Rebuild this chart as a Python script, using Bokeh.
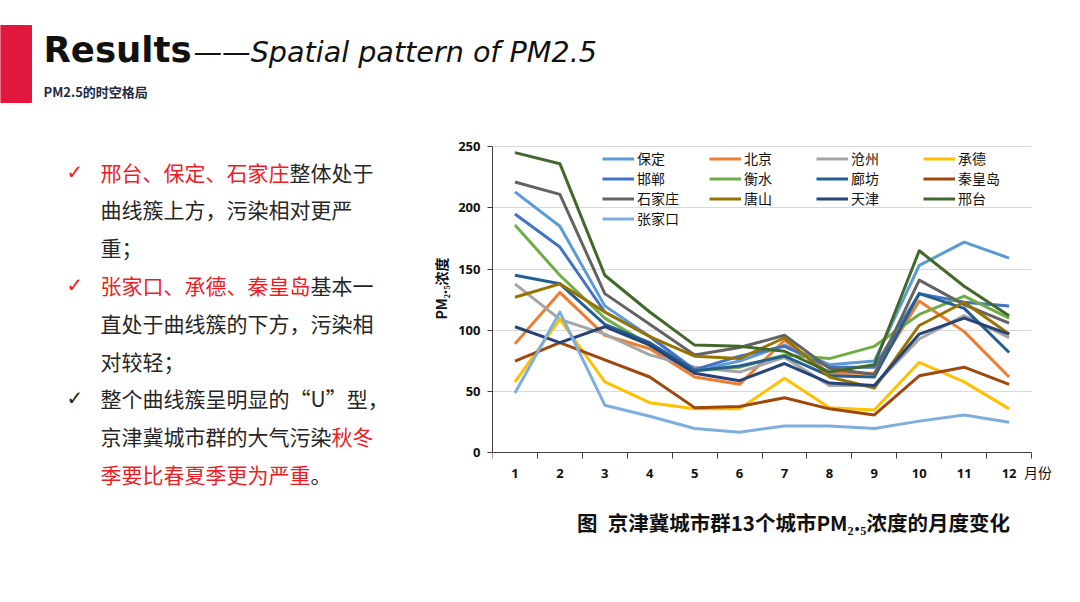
from bokeh.plotting import figure
from bokeh.models import Range1d, FixedTicker, Legend, LegendItem, Label
from bokeh.layouts import column, row
from bokeh.embed import file_html
from bokeh.resources import INLINE
from bokeh.core.properties import value

CJK = "Noto Sans CJK SC"

# ---------------- data ----------------
months = [1, 2, 3, 4, 5, 6, 7, 8, 9, 10, 11, 12]
cities = ["保定", "北京", "沧州", "承德", "邯郸", "衡水", "廊坊", "秦皇岛",
          "石家庄", "唐山", "天津", "邢台", "张家口"]
baoding = [213, 185, 120, 95, 67, 75, 88, 72, 75, 153, 172, 159]
beijing = [89, 131, 96, 85, 62, 56, 92, 65, 65, 124, 99, 62]
cangzhou = [138, 109, 97, 80, 70, 66, 78, 55, 55, 93, 112, 94]
chengde = [58, 109, 58, 41, 36, 36, 61, 37, 35, 74, 58, 36]
handan = [195, 168, 115, 95, 68, 79, 87, 70, 70, 130, 123, 120]
hengshui = [186, 145, 110, 88, 67, 70, 80, 77, 87, 113, 128, 110]
langfang = [145, 138, 105, 90, 67, 71, 79, 63, 62, 130, 118, 82]
qinhuangdao = [75, 90, 76, 62, 37, 38, 45, 36, 31, 63, 70, 56]
shijiazhuang = [221, 211, 130, 105, 80, 86, 96, 69, 64, 141, 121, 106]
tangshan = [127, 138, 115, 95, 79, 77, 94, 62, 53, 104, 123, 97]
tianjin = [103, 90, 103, 88, 65, 59, 73, 57, 55, 97, 110, 97]
xingtai = [245, 236, 145, 115, 88, 87, 83, 66, 72, 165, 136, 112]
zhangjiakou = [49, 115, 39, 30, 20, 17, 22, 22, 20, 26, 31, 25]
series = [baoding, beijing, cangzhou, chengde, handan, hengshui, langfang,
          qinhuangdao, shijiazhuang, tangshan, tianjin, xingtai, zhangjiakou]
colors = ["#5B9BD5", "#ED7D31", "#A5A5A5", "#FFC000", "#4472C4", "#70AD47",
          "#255E91", "#9E480E", "#636363", "#997300", "#264478", "#43682B",
          "#7CAFDD"]
y_ticks = [0, 50, 100, 150, 200, 250]

# ---------------- header ----------------
hdr = figure(width=1080, height=128, x_range=Range1d(0, 1080), y_range=Range1d(128, 0),
             output_backend="svg", toolbar_location=None, min_border=0,
             x_axis_type=None, y_axis_type=None, outline_line_color=None)
hdr.quad(left=[0], right=[31], top=[25], bottom=[102], color="#E2173E")
hdr.text(x=[43], y=[48.5], text=["Results"], text_font=value("DejaVu Sans"),
         text_font_style="bold", text_font_size="35.5px", text_baseline="middle",
         text_color="#111111")
hdr.text(x=[193], y=[51], text=["——Spatial pattern of PM2.5"], text_font=value("DejaVu Sans"),
         text_font_style="italic", text_font_size="28.6px", text_baseline="middle",
         text_color="#111111")
hdr.text(x=[43], y=[91], text=["PM2.5的时空格局"], text_font=value(CJK),
         text_font_style="bold", text_font_size="13px", text_baseline="middle",
         text_color="#1F2A44")

# ---------------- left text ----------------
left = figure(frame_width=428, frame_height=432, min_border=0, min_border_bottom=36,
              x_range=Range1d(0, 428), y_range=Range1d(560, 128),
              output_backend="svg", toolbar_location=None,
              x_axis_type=None, y_axis_type=None, outline_line_color=None)
RED = "#EE1C25"
BLK = "#262626"
lines = [
    [("邢台、保定、石家庄", RED), ("整体处于", BLK)],
    [("曲线簇上方，污染相对更严", BLK)],
    [("重；", BLK)],
    [("张家口、承德、秦皇岛", RED), ("基本一", BLK)],
    [("直处于曲线簇的下方，污染相", BLK)],
    [("对较轻；", BLK)],
    [("整个曲线簇呈明显的“U”型，", BLK)],
    [("京津冀城市群的大气污染", BLK), ("秋冬", RED)],
    [("季要比春夏季更为严重", RED), ("。", BLK)],
]
xs, ys, ts, cs = [], [], [], []
for i, segs in enumerate(lines):
    off = 0
    for t, c in segs:
        xs.append(100 + off * 21)
        ys.append(171 + i * 37.8)
        ts.append(t)
        cs.append(c)
        off += len(t)
left.text(x=xs, y=ys, text=ts, text_color=cs, text_font=value(CJK),
          text_font_size="21px", text_baseline="middle")
left.text(x=[66, 66, 66], y=[171, 284.4, 397.8], text=["✓", "✓", "✓"],
          text_color=[RED, RED, BLK], text_font=value("DejaVu Sans"),
          text_font_style="bold", text_font_size="20px", text_baseline="middle")

# ---------------- chart ----------------
# frame spans page x 490..1065 and y 128..560; axes are pinned at the data origin
chart = figure(frame_width=575, frame_height=432, min_border_left=62, min_border_right=15,
               min_border_top=0, min_border_bottom=36,
               x_range=Range1d(0.5, 13.3), y_range=Range1d(-87.7, 264.7),
               output_backend="svg", toolbar_location=None, outline_line_color=None)
renderers = []
for vals, c in zip(series, colors):
    renderers.append(chart.line(months, vals, line_width=3, line_color=c, line_join="round"))

chart.xgrid.visible = False
chart.ygrid.grid_line_color = "#D9D9D9"
chart.ygrid.ticker = FixedTicker(ticks=y_ticks)
g = chart.ygrid[0]
if "cross_bounds" in g.properties():
    g.cross_bounds = (0.5, 12.5)

chart.yaxis.bounds = (0, 250)
chart.yaxis.ticker = FixedTicker(ticks=y_ticks)
chart.yaxis.axis_line_color = "#404040"
chart.yaxis.major_tick_line_color = "#404040"
chart.yaxis.major_tick_out = 5
chart.yaxis.major_tick_in = 0
chart.yaxis.minor_tick_line_color = None
chart.yaxis.major_label_text_font = "Open Sans"
chart.yaxis.major_label_text_font_style = "bold"
chart.yaxis.major_label_text_font_size = "13px"
chart.yaxis.major_label_text_color = "#111111"
chart.yaxis.major_label_standoff = 7
# leading ideographic spaces lift the rotated label so it centres on the 0-250 span
chart.yaxis.axis_label = "\u3000" * 8 + "PM₂.₅浓度"
chart.yaxis.axis_label_text_font = CJK
chart.yaxis.axis_label_text_font_style = "bold"
chart.yaxis.axis_label_text_font_size = "14px"
chart.yaxis.axis_label_text_color = "#111111"
chart.yaxis.axis_label_standoff = 4

chart.xaxis.fixed_location = 0
chart.xaxis.bounds = (0.5, 12.5)
chart.xaxis.ticker = FixedTicker(ticks=months, minor_ticks=[m - 0.5 for m in months] + [12.5])
chart.xaxis.axis_line_color = "#404040"
chart.xaxis.major_tick_line_color = None
chart.xaxis.major_tick_out = 0
chart.xaxis.major_tick_in = 0
chart.xaxis.minor_tick_line_color = "#404040"
chart.xaxis.minor_tick_out = 6
chart.xaxis.minor_tick_in = 0
chart.xaxis.major_label_text_font = "Open Sans"
chart.xaxis.major_label_text_font_style = "bold"
chart.xaxis.major_label_text_font_size = "13px"
chart.xaxis.major_label_text_color = "#111111"
chart.xaxis.major_label_standoff = 10

legend = Legend(items=[LegendItem(label=n, renderers=[r]) for n, r in zip(cities, renderers)],
                location=(110, 332), orientation="horizontal", ncols=4,
                glyph_width=32, glyph_height=19, label_height=19, label_width=72,
                label_standoff=3, spacing=0, padding=0, margin=0,
                border_line_alpha=0, background_fill_alpha=0,
                label_text_font=CJK, label_text_font_size="14px",
                label_text_color="#111111")
chart.add_layout(legend)

chart.add_layout(Label(x=12.33, y=-15.9, text="月份", text_font=CJK,
                       text_font_size="14px", text_baseline="middle", text_color="#111111"))
chart.add_layout(Label(x=2.38, y=-56.7, text="图\u2002京津冀城市群13个城市PM₂.₅浓度的月度变化",
                       text_font=CJK, text_font_style="bold", text_font_size="20.5px",
                       text_baseline="middle", text_color="#111111"))

layout = column(hdr, row(left, chart))
open("out.html", "w").write(file_html(layout, INLINE))
